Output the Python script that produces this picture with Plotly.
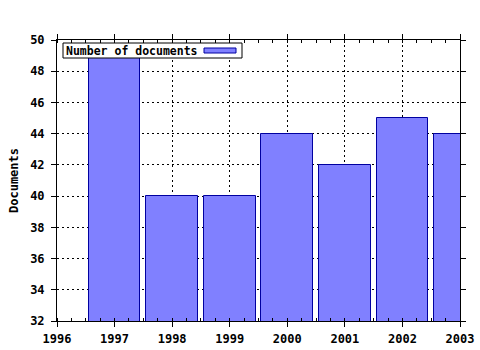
import plotly.graph_objects as go

years = [1997, 1998, 1999, 2000, 2001, 2002, 2003]
documents = [49, 40, 40, 44, 42, 45, 44]
series_name = "Number of documents"
x_ticks = [1996, 1997, 1998, 1999, 2000, 2001, 2002, 2003]
y_ticks = [32, 34, 36, 38, 40, 42, 44, 46, 48, 50]

FONT = "DejaVu Sans Mono"
BAR_FILL = "#8080ff"
BAR_LINE = "#0000a0"

fig = go.Figure()
fig.add_trace(go.Bar(
    x=years, y=documents, width=0.9, name=series_name,
    marker=dict(color=BAR_FILL, line=dict(color=BAR_LINE, width=1)),
    showlegend=False,
))

axis_common = dict(
    showline=True, linecolor="black", linewidth=1, mirror="ticks",
    showgrid=True, gridcolor="black", griddash="2px,3px", gridwidth=1,
    ticks="outside", ticklen=5, tickcolor="black",
    tickfont=dict(family=FONT, size=12, color="black", weight="bold"),
    zeroline=False, automargin=False,
)

fig.update_xaxes(
    range=[1996, 2003], tickvals=x_ticks, ticktext=[str(v) for v in x_ticks],
    minor=dict(ticks="inside", ticklen=3, tickcolor="black", dtick=0.25, showgrid=False),
    ticklabelstandoff=2,
    **axis_common,
)
fig.update_yaxes(
    range=[32, 50], tickvals=y_ticks, ticktext=[str(v) for v in y_ticks],
    ticklabelstandoff=4,
    title=dict(text="Documents", font=dict(family=FONT, size=12, color="black", weight="bold"), standoff=8),
    **axis_common,
)

# Legend box drawn with shapes in paper coordinates
PW, PH = 403.0, 281.0
def px(x):
    return (x - 57) / PW
def py(y):
    return 1 - (y - 40) / PH

fig.add_shape(type="rect", xref="paper", yref="paper", layer="above",
              x0=px(63), x1=px(242), y0=py(58), y1=py(43),
              fillcolor="white", line=dict(color="black", width=1))
fig.add_shape(type="rect", xref="paper", yref="paper", layer="above",
              x0=px(204), x1=px(236), y0=py(53), y1=py(48),
              fillcolor=BAR_FILL, line=dict(color=BAR_LINE, width=1))
fig.add_annotation(
    xref="paper", yref="paper", x=px(63.5), y=py(50.5), xanchor="left", yanchor="middle",
    text=series_name, showarrow=False, align="left",
    font=dict(family=FONT, size=11.5, color="black", weight="bold"),
)

fig.update_layout(
    width=480, height=350,
    margin=dict(l=57, r=20, t=40, b=29),
    paper_bgcolor="white", plot_bgcolor="white",
    bargap=0,
)

fig.write_html("out.html")
